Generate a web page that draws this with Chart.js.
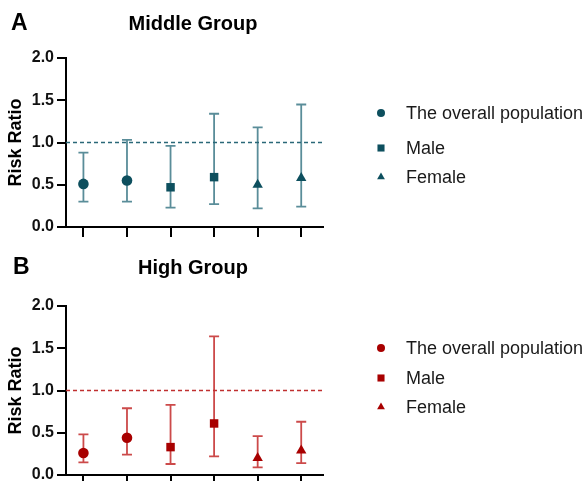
<!DOCTYPE html>
<html><head><meta charset="utf-8">
<script src="https://cdn.jsdelivr.net/npm/chart.js@4.4.1/dist/chart.umd.min.js"></script>
<style>
html,body{margin:0;padding:0;background:#fff;width:583px;height:481px;overflow:hidden}
.p{position:absolute;left:0;width:583px}
#wa{top:0;height:240px}
#wb{top:240px;height:241px}
</style></head><body>
<div class="p" id="wa"><canvas id="ca"></canvas></div>
<div class="p" id="wb"><canvas id="cb"></canvas></div>
<script>
// ---- data ----
const categories = [1, 2, 3, 4, 5, 6];
const seriesNames = ['The overall population', 'Male', 'Female'];
const seriesIdx = [[0, 1], [2, 3], [4, 5]];
const midRR = [0.51, 0.55, 0.47, 0.59, 0.50, 0.58];
const midLo = [0.30, 0.30, 0.23, 0.27, 0.22, 0.24];
const midHi = [0.88, 1.03, 0.96, 1.34, 1.18, 1.45];
const highRR = [0.26, 0.44, 0.33, 0.61, 0.20, 0.29];
const highLo = [0.15, 0.24, 0.13, 0.22, 0.09, 0.14];
const highHi = [0.48, 0.79, 0.83, 1.64, 0.46, 0.63];
const yTicks = [0, 0.5, 1.0, 1.5, 2.0];
const refValue = 1.0;
const panelLetters = ['A', 'B'];
const panelTitles = ['Middle Group', 'High Group'];
const yTitle = 'Risk Ratio';

// ---- styles ----
const pointStyles = ['circle', 'rect', 'triangle'];
const pointRadii = [5.3, 6, 6];
const legendRadii = [4, 5, 4.5];

const FONT = "'Liberation Sans', Arial, Helvetica, sans-serif";

const errorBarPlugin = {
  id: 'errbars',
  beforeDatasetsDraw(chart) {
    const ctx = chart.ctx, xs = chart.scales.x, ys = chart.scales.y;
    chart.data.datasets.forEach(ds => {
      if (!ds.lo) return;
      ctx.save();
      ctx.strokeStyle = ds.errColor;
      ctx.lineWidth = 1.8;
      ds.data.forEach((p, i) => {
        const x = xs.getPixelForValue(p.x);
        const y1 = ys.getPixelForValue(ds.lo[i]);
        const y2 = ys.getPixelForValue(ds.hi[i]);
        ctx.beginPath();
        ctx.moveTo(x, y1); ctx.lineTo(x, y2);
        ctx.moveTo(x - 5, y1); ctx.lineTo(x + 5, y1);
        ctx.moveTo(x - 5, y2); ctx.lineTo(x + 5, y2);
        ctx.stroke();
      });
      ctx.restore();
    });
  }
};

function drawMarker(ctx, style, r, x, y) {
  ctx.beginPath();
  if (style === 'circle') ctx.arc(x, y, r, 0, Math.PI * 2);
  else if (style === 'rect') { const s = r / Math.SQRT2; ctx.rect(x - s, y - s, 2 * s, 2 * s); }
  else { ctx.moveTo(x, y - r); ctx.lineTo(x + r * 0.866, y + r * 0.5); ctx.lineTo(x - r * 0.866, y + r * 0.5); ctx.closePath(); }
  ctx.fill();
}

const decorPlugin = {
  id: 'decor',
  afterDraw(chart) {
    const o = chart.options.plugins.decor;
    const ctx = chart.ctx;
    ctx.save();
    ctx.fillStyle = '#000';
    ctx.textBaseline = 'middle';
    ctx.font = 'bold 23px ' + FONT;
    ctx.textAlign = 'left';
    ctx.fillText(o.letter, o.letterX, o.titleY);
    ctx.font = 'bold 20px ' + FONT;
    ctx.textAlign = 'center';
    ctx.fillText(o.title, o.titleX, o.titleY);
    // legend
    ctx.font = '18px ' + FONT;
    ctx.textAlign = 'left';
    chart.data.datasets.forEach((ds, i) => {
      if (!ds.lo) return;
      const y = o.legendY[i];
      ctx.fillStyle = ds.backgroundColor;
      drawMarker(ctx, ds.pointStyle, legendRadii[i], o.legendMarkerX, y);
      ctx.fillStyle = '#1a1a1a';
      ctx.fillText(ds.label, o.legendTextX, y + 1);
    });
    ctx.restore();
  }
};

function makePanel(canvasId, rr, lo, hi, colors, layoutOpts) {
  const datasets = seriesNames.map((name, s) => ({
    type: 'scatter',
    label: name,
    data: seriesIdx[s].map(i => ({ x: categories[i], y: rr[i] })),
    lo: seriesIdx[s].map(i => lo[i]),
    hi: seriesIdx[s].map(i => hi[i]),
    pointStyle: pointStyles[s],
    pointRadius: pointRadii[s],
    pointHoverRadius: pointRadii[s],
    backgroundColor: colors.marker,
    borderColor: colors.marker,
    borderWidth: 0,
    errColor: colors.err
  }));
  datasets.push({
    type: 'line',
    label: 'ref',
    data: [{ x: 0.6, y: refValue }, { x: 6.5, y: refValue }],
    borderColor: colors.dash,
    borderWidth: 1.5,
    borderDash: [4, 3],
    pointRadius: 0,
    fill: false
  });
  return new Chart(document.getElementById(canvasId), {
    type: 'scatter',
    data: { datasets },
    options: {
      responsive: true,
      maintainAspectRatio: false,
      animation: false,
      layout: { padding: { left: 0, top: layoutOpts.top, right: 260, bottom: 0 } },
      plugins: {
        legend: { display: false },
        tooltip: { enabled: false },
        decor: layoutOpts.decor
      },
      scales: {
        x: {
          type: 'linear',
          min: 0.6, max: 6.5,
          afterBuildTicks: s => { s.ticks = categories.map(v => ({ value: v })); },
          afterFit: s => { s.height = layoutOpts.xHeight; s.paddingLeft = 0; s.paddingRight = 0; },
          ticks: { display: false },
          grid: { drawOnChartArea: false, drawTicks: true, tickLength: 10, color: '#000', lineWidth: 2 },
          border: { color: '#000', width: 2 }
        },
        y: {
          min: 0, max: 2,
          afterBuildTicks: s => { s.ticks = yTicks.map(v => ({ value: v })); },
          afterFit: s => { s.width = 66; s.paddingTop = 0; s.paddingBottom = 0; },
          ticks: {
            callback: v => Number(v).toFixed(1),
            font: { family: FONT, size: 16, weight: 'bold' },
            color: '#111',
            padding: 3
          },
          grid: { drawOnChartArea: false, drawTicks: true, tickLength: 9, color: '#000', lineWidth: 2 },
          border: { color: '#000', width: 2 },
          title: {
            display: true, text: yTitle, color: '#000',
            font: { family: FONT, size: 18, weight: 'bold' },
            padding: { top: 5, bottom: 0 }
          }
        }
      }
    },
    plugins: [errorBarPlugin, decorPlugin]
  });
}

makePanel('ca', midRR, midLo, midHi,
  { marker: '#0d4f5e', err: '#5a8d99', dash: '#2a6878' },
  { top: 58, xHeight: 13,
    decor: { letter: panelLetters[0], title: panelTitles[0], letterX: 11, titleX: 193, titleY: 24,
      legendMarkerX: 381, legendTextX: 406, legendY: [113, 148, 177] } });

makePanel('cb', highRR, highLo, highHi,
  { marker: '#a80000', err: '#cc4a4a', dash: '#c03030' },
  { top: 66, xHeight: 6,
    decor: { letter: panelLetters[1], title: panelTitles[1], letterX: 13, titleX: 193, titleY: 28,
      legendMarkerX: 381, legendTextX: 406, legendY: [108, 138, 167] } });
</script>
</body></html>
